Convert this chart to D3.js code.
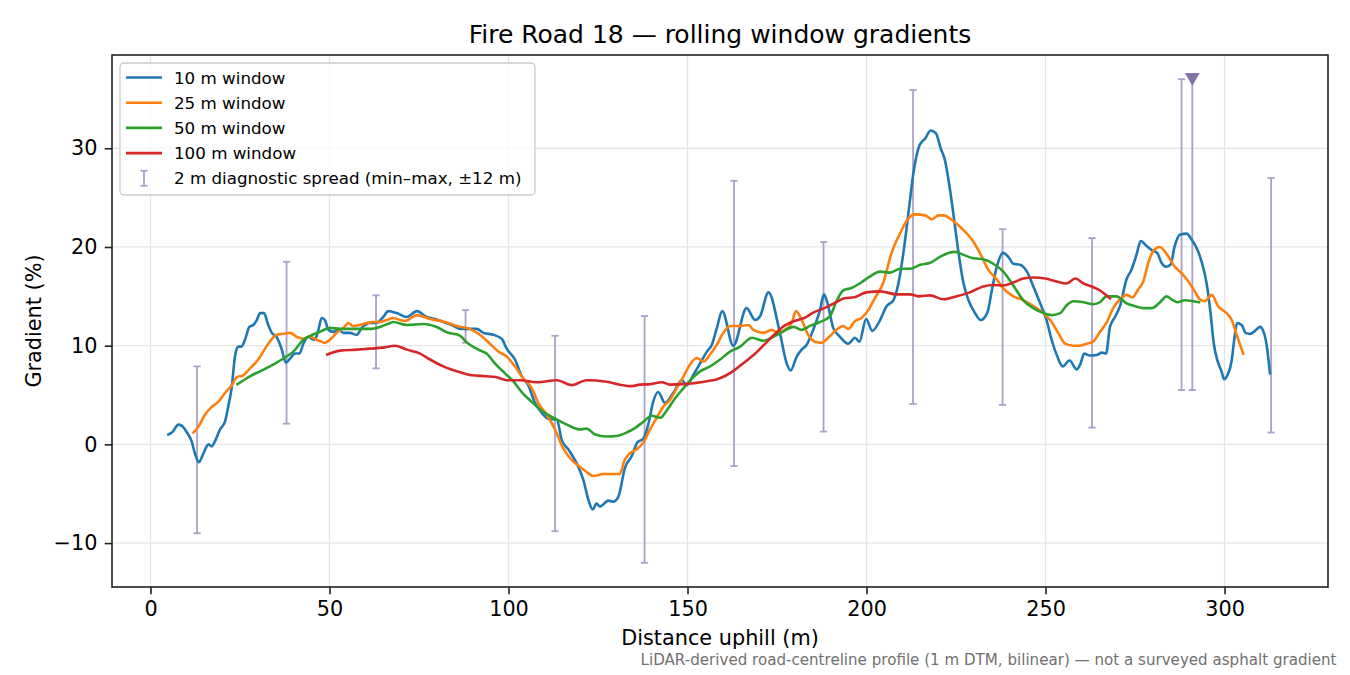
<!doctype html>
<html lang="en">
<head>
<meta charset="UTF-8" />
<title>Fire Road 18 — rolling window gradients</title>
<script src="https://cdn.jsdelivr.net/npm/d3@7"></script>
<style>
  html, body { margin: 0; padding: 0; background: #fff; }
  svg { display: block; font-family: "DejaVu Sans", sans-serif; }
</style>
</head>
<body>
<div id="chart"></div>
<script>
// 10 m window
const dist10 = [5.0, 6.0, 7.8, 8.7, 10.2, 11.5, 12.4, 13.5, 14.8, 16.2, 17.1, 18.0, 19.4, 20.8, 21.7, 22.7, 23.6, 24.5, 25.4, 26.4,
  27.6, 28.7, 29.7, 30.6, 31.7, 32.9, 33.9, 35.2, 36.6, 37.8, 39.0, 40.4, 41.6, 42.7, 44.1, 45.0, 45.9, 46.9, 47.8, 48.7,
  49.7, 51.1, 52.5, 53.9, 55.7, 57.6, 59.0, 61.3, 63.1, 65.0, 66.4, 68.8, 71.6, 74.4, 77.2, 79.5, 81.8, 84.1, 86.5, 89.2,
  91.1, 93.0, 95.8, 98.1, 99.5, 101.8, 103.7, 105.5, 107.4, 109.3, 111.1, 113.5, 114.9, 116.7, 119.0, 120.9, 122.3, 123.5, 124.6, 125.5,
  127.9, 129.3, 130.7, 132.5, 134.4, 136.0, 137.7, 139.1, 140.4, 141.8, 143.7, 146.0, 148.4, 149.8, 151.6, 153.5, 155.4, 156.8, 158.2, 159.7,
  162.8, 166.5, 168.9, 170.3, 172.6, 175.8, 177.7, 178.8, 180.5, 181.9, 183.3, 185.1, 187.0, 188.1, 189.1, 190.7, 192.6, 194.9, 196.8, 198.0,
  199.9, 201.6, 203.8, 205.6, 207.5, 208.9, 210.3, 211.7, 213.1, 214.8, 216.4, 217.9, 219.4, 220.7, 221.9, 223.2, 224.5, 225.7, 227.1, 228.5,
  230.3, 231.9, 233.8, 235.0, 236.4, 238.1, 239.6, 241.0, 242.9, 244.8, 246.6, 248.5, 250.3, 251.7, 253.3, 254.8, 256.7, 258.7, 259.8, 260.8,
  262.4, 264.3, 265.7, 266.9, 268.0, 269.4, 270.8, 272.6, 274.0, 275.4, 276.6, 278.2, 279.6, 281.2, 282.4, 283.6, 284.9, 286.1, 287.5, 289.4,
  290.8, 292.2, 293.6, 295.0, 296.1, 297.0, 298.1, 299.2, 299.9, 300.8, 302.0, 302.7, 303.5, 304.8, 305.9, 307.1, 308.5, 309.9, 310.8, 311.7, 312.7];
const grad10 = [1.0, 1.2, 2.0, 1.9, 1.2, 0.3, -0.9, -1.8, -0.9, 0.0, -0.2, 0.3, 1.5, 2.3, 3.8, 5.8, 8.9, 9.9, 9.9, 10.6,
  11.9, 12.1, 12.6, 13.3, 13.3, 12.1, 11.3, 10.9, 9.7, 8.3, 8.7, 9.2, 9.2, 10.2, 10.9, 10.7, 10.6, 11.6, 12.8, 12.6,
  11.6, 11.4, 11.6, 11.3, 11.3, 11.1, 11.8, 12.3, 12.3, 12.9, 13.5, 13.3, 12.9, 13.5, 12.9, 12.7, 12.4, 12.1, 11.7, 11.7,
  11.7, 11.3, 11.1, 10.7, 9.7, 8.6, 6.9, 6.0, 4.2, 3.2, 2.6, 2.5, 0.4, -0.5, -1.9, -3.6, -5.6, -6.6, -6.0, -6.3,
  -5.7, -5.8, -5.3, -2.4, -1.2, 0.2, 0.6, 2.1, 4.3, 5.3, 4.2, 5.2, 6.5, 6.0, 7.0, 8.2, 9.4, 10.1, 11.8, 13.5,
  10.0, 13.8, 12.6, 13.0, 15.4, 11.3, 8.2, 7.5, 8.9, 9.6, 10.1, 11.6, 13.6, 15.2, 14.3, 11.8, 10.9, 10.2, 10.8, 10.4,
  12.7, 11.5, 12.6, 14.0, 14.6, 16.3, 19.4, 23.4, 27.5, 30.3, 31.0, 31.8, 31.5, 30.0, 28.8, 26.1, 22.7, 19.4, 16.3, 14.6,
  13.3, 12.6, 13.4, 15.6, 18.0, 19.4, 19.0, 18.3, 18.2, 17.5, 16.0, 14.3, 12.6, 10.6, 8.9, 7.9, 8.5, 7.6, 8.2, 9.2,
  9.0, 9.05, 9.3, 9.2, 11.9, 12.9, 14.0, 16.7, 17.7, 19.2, 20.6, 20.1, 19.7, 19.4, 18.4, 18.0, 18.2, 20.1, 21.25, 21.35,
  20.75, 19.9, 18.5, 16.3, 13.3, 10.2, 8.4, 7.35, 6.6, 7.0, 8.5, 10.6, 12.3, 12.1, 11.3, 11.2, 11.5, 11.9, 11.5, 10.2, 7.2];

// 25 m window
const dist25 = [12.0, 13.4, 15.2, 17.1, 18.9, 20.8, 22.7, 24.1, 25.9, 27.8, 30.1, 31.5, 32.9, 35.3, 37.1, 39.0, 40.8, 42.7, 44.6, 46.4,
  47.8, 48.7, 50.1, 52.0, 53.9, 55.3, 56.5, 58.5, 60.4, 62.2, 64.1, 66.0, 67.8, 69.7, 71.1, 74.4, 78.1, 82.3, 85.5, 89.2,
  92.0, 94.8, 97.2, 99.5, 101.8, 104.1, 106.5, 108.3, 110.7, 113.0, 115.3, 117.7, 120.0, 121.8, 123.7, 126.5, 129.3, 131.1, 132.3, 133.9,
  135.8, 137.7, 139.5, 141.4, 143.3, 145.1, 147.0, 148.9, 150.7, 152.6, 154.5, 156.3, 158.2, 160.0, 161.9, 164.7, 167.0, 168.4, 171.2, 173.5,
  175.4, 177.2, 179.1, 180.3, 181.9, 183.7, 185.6, 187.4, 189.3, 191.6, 193.5, 194.9, 196.8, 198.6, 200.5, 202.3, 204.6, 207.0, 209.4, 211.7,
  213.6, 216.4, 218.2, 220.1, 221.5, 224.3, 227.1, 229.9, 232.2, 234.0, 236.4, 238.2, 241.0, 243.8, 246.6, 249.4, 251.7, 253.6, 255.5, 257.8,
  259.6, 261.5, 263.3, 265.2, 267.0, 268.9, 270.8, 272.6, 274.3, 275.9, 277.3, 278.7, 280.1, 281.9, 284.0, 286.1, 288.0, 289.9, 291.7, 293.1,
  294.5, 296.4, 298.2, 300.6, 302.0, 303.4, 305.2];
const grad25 = [1.2, 1.8, 3.0, 3.8, 4.3, 5.2, 6.0, 6.8, 7.0, 7.7, 8.6, 9.4, 10.2, 11.1, 11.2, 11.3, 10.9, 10.7, 10.9, 10.6,
  10.4, 10.3, 10.6, 11.3, 11.8, 12.3, 12.0, 12.1, 12.3, 12.4, 12.4, 12.6, 12.8, 12.6, 12.5, 13.1, 12.7, 12.4, 12.0, 11.7,
  11.1, 10.2, 9.4, 8.9, 7.9, 6.7, 5.7, 4.2, 3.0, 1.5, -0.4, -1.6, -2.3, -2.8, -3.2, -3.0, -3.0, -3.0, -1.7, -0.9,
  -0.5, 0.2, 1.5, 2.7, 3.85, 4.5, 5.7, 6.9, 8.1, 8.75, 8.4, 9.1, 10.1, 11.3, 12.0, 12.0, 12.1, 11.6, 11.3, 11.6,
  11.3, 11.6, 12.3, 13.5, 12.6, 11.1, 10.4, 10.3, 10.8, 11.6, 12.0, 11.7, 12.5, 12.8, 13.6, 14.8, 16.3, 19.4, 21.4, 22.9,
  23.3, 23.2, 22.8, 23.2, 23.2, 22.6, 21.7, 20.5, 19.0, 17.7, 16.7, 15.8, 15.0, 14.6, 14.0, 13.3, 12.4, 11.25, 10.2, 10.0,
  10.0, 10.2, 10.4, 11.4, 12.3, 13.8, 14.7, 15.15, 14.9, 15.7, 16.5, 18.4, 19.6, 20.0, 19.2, 18.0, 17.35, 16.5, 15.5, 14.7,
  14.5, 15.15, 14.0, 13.3, 12.6, 11.1, 9.2];

// 50 m window
const dist50 = [24.3, 27.8, 30.6, 33.9, 37.1, 39.9, 42.7, 44.6, 47.3, 50.1, 52.9, 56.6, 61.3, 64.1, 66.9, 67.8, 71.6, 76.2, 79.9, 83.2,
  86.0, 88.8, 91.6, 93.9, 96.2, 99.0, 101.3, 103.7, 106.5, 109.7, 113.0, 116.3, 120.0, 121.8, 124.2, 127.4, 130.2, 133.0, 135.3, 137.7,
  140.0, 142.4, 144.3, 146.6, 148.9, 151.3, 153.5, 156.3, 159.1, 161.9, 164.7, 168.0, 171.2, 174.0, 176.8, 179.6, 181.9, 184.2, 187.0, 189.8,
  191.6, 193.5, 195.8, 198.1, 200.9, 203.8, 206.6, 209.4, 212.2, 215.0, 217.8, 220.5, 222.9, 224.7, 227.1, 229.9, 232.6, 235.4, 238.2, 241.0,
  243.8, 246.6, 249.4, 251.7, 254.1, 255.9, 257.8, 260.6, 263.4, 265.2, 267.0, 269.8, 272.6, 275.0, 277.3, 279.6, 282.0, 283.8, 285.2, 286.8,
  288.9, 291.3, 292.9];
const grad50 = [6.1, 6.9, 7.4, 8.0, 8.7, 9.4, 10.6, 11.0, 11.4, 11.8, 11.7, 11.7, 11.7, 11.9, 12.3, 12.4, 12.1, 12.2, 11.9, 11.3,
  11.1, 10.2, 9.6, 9.2, 8.2, 7.2, 6.4, 5.3, 4.3, 3.3, 2.6, 2.0, 1.5, 1.6, 1.0, 0.8, 0.85, 1.2, 1.65, 2.3,
  2.9, 2.7, 3.5, 4.7, 5.7, 6.7, 7.4, 7.9, 8.6, 9.4, 9.9, 10.8, 10.5, 10.9, 11.45, 11.9, 11.6, 12.0, 12.4, 13.0,
  14.5, 15.6, 15.85, 16.3, 17.0, 17.5, 17.4, 17.8, 17.8, 18.2, 18.4, 19.0, 19.4, 19.5, 19.2, 18.85, 18.75, 18.3, 17.5, 16.1,
  14.6, 13.8, 13.3, 13.1, 13.3, 14.1, 14.5, 14.4, 14.2, 14.4, 15.0, 15.0, 14.3, 14.0, 13.8, 13.8, 14.4, 15.0, 14.7, 14.4,
  14.6, 14.5, 14.4];

// 100 m window
const dist100 = [49.4, 52.9, 57.6, 61.3, 65.0, 68.3, 71.6, 75.3, 78.1, 81.8, 86.5, 89.7, 93.9, 96.7, 99.5, 103.2, 107.9, 113.5, 117.7, 121.8,
  127.4, 131.1, 134.4, 136.7, 139.5, 142.8, 145.1, 148.9, 151.7, 155.4, 157.8, 160.6, 163.4, 166.2, 168.6, 171.4, 174.2, 177.0, 179.8, 182.6,
  185.4, 188.2, 191.0, 193.8, 196.6, 199.9, 203.8, 208.4, 212.2, 214.5, 217.8, 221.5, 225.2, 228.9, 232.6, 235.4, 238.2, 241.0, 243.8, 246.6,
  249.9, 253.1, 255.9, 258.3, 260.6, 262.9, 264.7, 268.0];
const grad100 = [9.1, 9.5, 9.6, 9.7, 9.8, 10.0, 9.6, 9.2, 8.6, 7.9, 7.3, 7.0, 6.9, 6.8, 6.5, 6.5, 6.3, 6.5, 6.0, 6.5,
  6.35, 6.05, 5.9, 6.05, 6.1, 6.3, 6.05, 6.1, 6.2, 6.4, 6.55, 6.95, 7.6, 8.4, 9.1, 10.1, 11.1, 12.0, 12.5, 12.8,
  13.4, 13.8, 14.3, 14.8, 14.9, 15.4, 15.5, 15.2, 15.2, 15.0, 15.1, 14.7, 15.0, 15.4, 16.0, 16.15, 16.1, 16.4, 16.8, 16.9,
  16.8, 16.5, 16.3, 16.8, 16.3, 16.0, 15.7, 14.8];

// 2 m diagnostic spread (min–max, ±12 m)
const spreadDist = [13, 38, 63, 88, 113, 138, 163, 188, 213, 238, 263, 288, 313];
const spreadLow  = [-9.0, 2.1, 7.7, 10.3, -8.8, -12.0, -2.2, 1.3, 4.1, 4.0, 1.7, 5.5, 1.2];
const spreadHigh = [7.9, 18.5, 15.1, 13.6, 11.0, 13.0, 26.7, 20.5, 35.9, 21.8, 20.9, 37.0, 27.0];
// clipped spread, drawn with a marker at the top
const clipDist = [291];
const clipLow = [5.5];
const clipHigh = [37.2];

const seriesLabels = ["10 m window", "25 m window", "50 m window", "100 m window"];
const seriesColors = ["#1f77b4", "#ff7f0e", "#2ca02c", "#d62728"];
const xTicks = [0, 50, 100, 150, 200, 250, 300];
const yTicks = [-10, 0, 10, 20, 30];

const width = 1350, height = 675;
const marginLeft = 112, marginRight = 22, marginTop = 55, marginBottom = 88;
const font = '"DejaVu Sans", sans-serif';

const series = [
  [dist10, grad10], [dist25, grad25], [dist50, grad50], [dist100, grad100]
].map(([xs, ys], i) => ({
  label: seriesLabels[i],
  color: seriesColors[i],
  points: xs.map((d, j) => [d, ys[j]])
}));

const x = d3.scaleLinear()
  .domain([-10.75, 328.9])
  .range([marginLeft, width - marginRight]);

const y = d3.scaleLinear()
  .domain([-14.45, 39.45])
  .range([height - marginBottom, marginTop]);

const svg = d3.select("#chart").append("svg")
  .attr("width", width)
  .attr("height", height);

// grid
svg.append("g").selectAll("line").data(xTicks).join("line")
  .attr("x1", d => x(d)).attr("x2", d => x(d))
  .attr("y1", marginTop).attr("y2", height - marginBottom)
  .attr("stroke", "#e5e5e5").attr("stroke-width", 1.3);
svg.append("g").selectAll("line").data(yTicks).join("line")
  .attr("x1", marginLeft).attr("x2", width - marginRight)
  .attr("y1", d => y(d)).attr("y2", d => y(d))
  .attr("stroke", "#e5e5e5").attr("stroke-width", 1.3);

// error bars
const barColor = "#aaa1c8";
const cap = 3.6;
const bars = svg.append("g").attr("stroke", barColor).attr("stroke-width", 1.8);
spreadDist.forEach((d, i) => {
  const cx = x(d);
  bars.append("line").attr("x1", cx).attr("x2", cx).attr("y1", y(spreadLow[i])).attr("y2", y(spreadHigh[i]));
  bars.append("line").attr("x1", cx - cap).attr("x2", cx + cap).attr("y1", y(spreadLow[i])).attr("y2", y(spreadLow[i]));
  bars.append("line").attr("x1", cx - cap).attr("x2", cx + cap).attr("y1", y(spreadHigh[i])).attr("y2", y(spreadHigh[i]));
});
clipDist.forEach((d, i) => {
  const cx = x(d);
  bars.append("line").attr("x1", cx).attr("x2", cx).attr("y1", y(clipLow[i])).attr("y2", y(clipHigh[i]));
  bars.append("line").attr("x1", cx - cap).attr("x2", cx + cap).attr("y1", y(clipLow[i])).attr("y2", y(clipLow[i]));
});

// lines
const line = d3.line()
  .x(d => x(d[0]))
  .y(d => y(d[1]))
  .curve(d3.curveMonotoneX);

svg.append("g").selectAll("path").data(series).join("path")
  .attr("d", d => line(d.points))
  .attr("fill", "none")
  .attr("stroke", d => d.color)
  .attr("stroke-width", 2.6)
  .attr("stroke-linejoin", "round")
  .attr("stroke-linecap", "square");

// clip marker
svg.append("g").selectAll("path").data(clipDist).join("path")
  .attr("d", d3.symbol(d3.symbolTriangle, 95))
  .attr("transform", (d, i) => `translate(${x(d)},${y(clipHigh[i])}) rotate(180)`)
  .attr("fill", "#8171ab");

// axes
const xAxis = svg.append("g")
  .attr("transform", `translate(0,${height - marginBottom})`)
  .call(d3.axisBottom(x).tickValues(xTicks).tickSize(7.3).tickPadding(7.3).tickFormat(d3.format("d")));
const yAxis = svg.append("g")
  .attr("transform", `translate(${marginLeft},0)`)
  .call(d3.axisLeft(y).tickValues(yTicks).tickSize(7.3).tickPadding(7.3).tickFormat(d3.format("d")));
[xAxis, yAxis].forEach(g => {
  g.select(".domain").remove();
  g.selectAll(".tick line").attr("stroke", "#222").attr("stroke-width", 1.6);
  g.selectAll(".tick text").attr("fill", "#000").style("font-size", "20.8px").style("font-family", font);
});

// frame
svg.append("rect")
  .attr("x", marginLeft).attr("y", marginTop)
  .attr("width", width - marginLeft - marginRight)
  .attr("height", height - marginTop - marginBottom)
  .attr("fill", "none").attr("stroke", "#222").attr("stroke-width", 1.6);

// title and labels
svg.append("text")
  .attr("x", (marginLeft + width - marginRight) / 2).attr("y", 42.5)
  .attr("text-anchor", "middle")
  .style("font-size", "25px")
  .text("Fire Road 18 — rolling window gradients");

svg.append("text")
  .attr("x", (marginLeft + width - marginRight) / 2).attr("y", 645)
  .attr("text-anchor", "middle")
  .style("font-size", "20.8px")
  .text("Distance uphill (m)");

svg.append("text")
  .attr("transform", `translate(41,${(marginTop + height - marginBottom) / 2}) rotate(-90)`)
  .attr("text-anchor", "middle")
  .style("font-size", "20.8px")
  .text("Gradient (%)");

svg.append("text")
  .attr("x", 1336.5).attr("y", 665)
  .attr("text-anchor", "end")
  .attr("fill", "#707070")
  .style("font-size", "15.1px")
  .text("LiDAR-derived road-centreline profile (1 m DTM, bilinear) — not a surveyed asphalt gradient");

// legend
const legend = svg.append("g").attr("transform", "translate(120,63)");
legend.append("rect")
  .attr("width", 415).attr("height", 132).attr("rx", 4)
  .attr("fill", "#fff").attr("fill-opacity", 0.8)
  .attr("stroke", "#cccccc").attr("stroke-width", 1.3);
series.forEach((s, i) => {
  const ly = 14.5 + i * 25.2;
  legend.append("line")
    .attr("x1", 6).attr("x2", 42).attr("y1", ly).attr("y2", ly)
    .attr("stroke", s.color).attr("stroke-width", 2.6);
  legend.append("text")
    .attr("x", 54).attr("y", ly + 6)
    .style("font-size", "16.7px")
    .text(s.label);
});
const ey = 14.5 + 4 * 25.2;
const lg = legend.append("g").attr("stroke", barColor).attr("stroke-width", 1.8);
lg.append("line").attr("x1", 24).attr("x2", 24).attr("y1", ey - 7.5).attr("y2", ey + 7.5);
lg.append("line").attr("x1", 24 - cap).attr("x2", 24 + cap).attr("y1", ey - 7.5).attr("y2", ey - 7.5);
lg.append("line").attr("x1", 24 - cap).attr("x2", 24 + cap).attr("y1", ey + 7.5).attr("y2", ey + 7.5);
legend.append("text")
  .attr("x", 54).attr("y", ey + 6)
  .style("font-size", "16.7px")
  .text("2 m diagnostic spread (min–max, ±12 m)");
</script>
</body>
</html>
